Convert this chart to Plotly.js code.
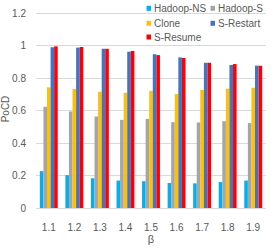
<!DOCTYPE html>
<html><head><meta charset="utf-8">
<script src="https://cdn.plot.ly/plotly-3.0.1.min.js"></script>
<style>html,body{margin:0;padding:0;background:#fff}</style>
</head><body><div id="chart" style="width:274px;height:249px"></div>
<script>
const categories = ["1.1","1.2","1.3","1.4","1.5","1.6","1.7","1.8","1.9"];
const hadoopNS  = [0.227,0.202,0.183,0.169,0.165,0.154,0.152,0.160,0.169];
const hadoopS   = [0.624,0.595,0.564,0.543,0.549,0.529,0.527,0.535,0.523];
const clone     = [0.743,0.733,0.716,0.710,0.722,0.702,0.727,0.735,0.741];
const sRestart  = [0.990,0.988,0.981,0.963,0.948,0.928,0.895,0.881,0.877];
const sResume   = [0.996,0.992,0.981,0.967,0.942,0.924,0.895,0.887,0.877];
const seriesNames = ["Hadoop-NS","Hadoop-S","Clone","S-Restart","S-Resume"];
const seriesColors = ["#00B0F0","#A5A5A5","#FFC000","#4472C4","#FF0000"];
const yTicks = [0,0.2,0.4,0.6,0.8,1,1.2];
const yTickLabels = ["0","0.2","0.4","0.6","0.8","1","1.2"];

const FONT = "'Liberation Sans', Arial, sans-serif";
const W = 274, H = 249, ML = 36, MR = 8, MT = 10, MB = 41;
const pw = W - ML - MR, ph = H - MT - MB;
const px2x = p => (p - ML) / pw;
const py2y = p => 1 - (p - MT) / ph;

const allSeries = [hadoopNS, hadoopS, clone, sRestart, sResume];
const traces = allSeries.map((vals, i) => ({
  type: "bar", name: seriesNames[i], x: categories, y: vals,
  marker: {color: seriesColors[i], line: {width: 0}},
  hoverinfo: "skip"
}));

// legend layout (pixel positions)
const legPos = [[146.5,8.3],[210.5,8.3],[146.5,23.3],[210.5,23.3],[146.5,37]];
const shapes = [], annotations = [];
legPos.forEach((p, i) => {
  shapes.push({type:"rect", xref:"paper", yref:"paper",
    x0: px2x(p[0]), x1: px2x(p[0]+4.5), y0: py2y(p[1]+2.5), y1: py2y(p[1]-2.5),
    fillcolor: seriesColors[i], line:{width:0}});
  annotations.push({xref:"paper", yref:"paper", x: px2x(p[0]+5.5), y: py2y(p[1]),
    xanchor:"left", yanchor:"middle", showarrow:false, text: seriesNames[i],
    font:{family:FONT, size:10, color:"#595959"}});
});

const layout = {
  width: W, height: H,
  margin: {l: ML, r: MR, t: MT, b: MB, pad: 0},
  paper_bgcolor: "#fff", plot_bgcolor: "#fff",
  barmode: "group", bargap: 0.3, bargroupgap: 0,
  showlegend: false,
  font: {family: FONT, size: 10, color: "#595959"},
  xaxis: {
    type: "category", tickvals: categories, ticktext: categories,
    showgrid: false, zeroline: false, showline: true, linecolor: "#D9D9D9", linewidth: 1,
    ticks: "", ticklabelstandoff: 10,
    tickfont: {family: FONT, size: 10, color: "#595959"},
    title: {text: "β", font: {family: FONT, size: 11, color: "#595959"}, standoff: 2}
  },
  yaxis: {
    range: [0, 1.22], tickvals: yTicks, ticktext: yTickLabels,
    showgrid: true, gridcolor: "#D9D9D9", gridwidth: 1,
    zeroline: false, showline: false, ticks: "", ticklabelstandoff: 9,
    tickfont: {family: FONT, size: 10, color: "#595959"},
    title: {text: "PoCD", font: {family: FONT, size: 10, color: "#595959"}, standoff: 4}
  },
  shapes: shapes,
  annotations: annotations
};
Plotly.newPlot("chart", traces, layout, {displayModeBar: false, staticPlot: true});
</script>
</body></html>
